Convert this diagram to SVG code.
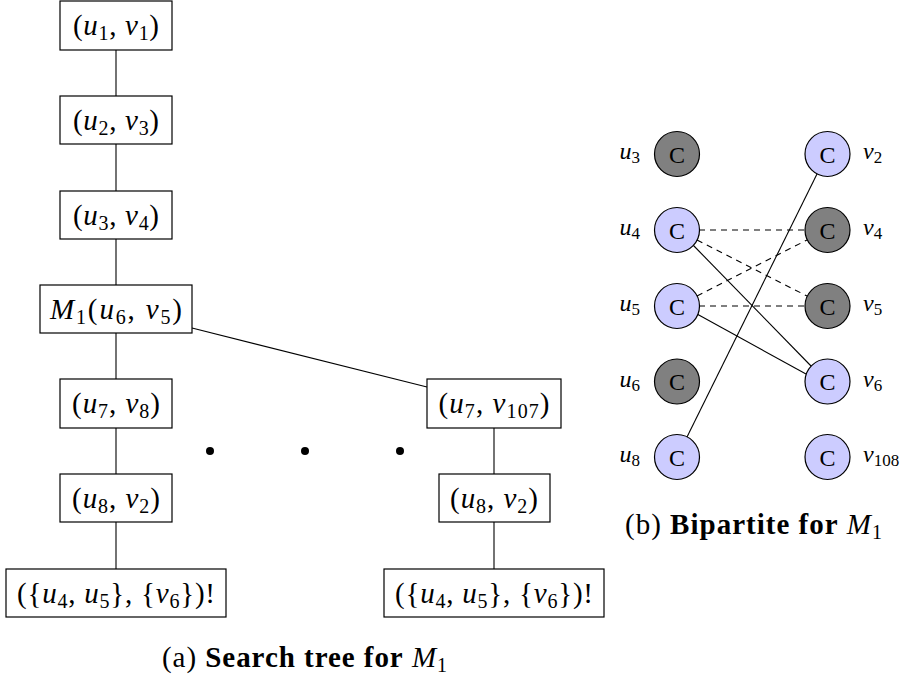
<svg xmlns="http://www.w3.org/2000/svg" width="903" height="678" viewBox="0 0 903 678" font-family="'Liberation Serif', 'DejaVu Serif', 'Times New Roman', serif">
<style>
text{font-family:'Liberation Serif','DejaVu Serif','Times New Roman',serif;fill:#000}
.t{font-size:29px}
.i{font-style:italic}
.s{font-size:20px}
.box{fill:#fff;stroke:#000;stroke-width:1.2}
.e{stroke:#000;stroke-width:1.1;fill:none}
.d{stroke:#000;stroke-width:1.1;fill:none;stroke-dasharray:6 5}
.cg{fill:#808080;stroke:#000;stroke-width:1.2}
.cb{fill:#ccccff;stroke:#000;stroke-width:1.2}
.c{font-size:24px}
.l{font-size:24px}
.ls{font-size:17px}
.cap{font-size:29px}
.b{font-weight:bold}
</style>
<g id="connectors">
<line class="e" x1="116" y1="50" x2="116" y2="96"/>
<line class="e" x1="116" y1="144" x2="116" y2="191"/>
<line class="e" x1="116" y1="239" x2="116" y2="285"/>
<line class="e" x1="116" y1="333" x2="116" y2="379"/>
<line class="e" x1="116" y1="428" x2="116" y2="474"/>
<line class="e" x1="116" y1="522" x2="116" y2="569"/>
<line class="e" x1="192" y1="328" x2="427" y2="387"/>
<line class="e" x1="494" y1="428" x2="494" y2="474"/>
<line class="e" x1="494" y1="522" x2="494" y2="569"/>
<line class="d" x1="699" y1="230" x2="805" y2="230"/>
<line class="d" x1="697" y1="240" x2="807" y2="296"/>
<line class="d" x1="697" y1="296" x2="807" y2="240"/>
<line class="d" x1="699" y1="306" x2="805" y2="306"/>
<line class="e" x1="693" y1="245" x2="812" y2="367"/>
<line class="e" x1="697" y1="314" x2="806" y2="374"/>
<line class="e" x1="687" y1="437" x2="817" y2="174"/>
</g>
<g id="n1"><rect class="box" x="60" y="1" width="112" height="49"/>
<text class="t" x="116" y="35" text-anchor="middle" textLength="86" lengthAdjust="spacing">(<tspan class="i">u</tspan><tspan class="s" dy="5">1</tspan><tspan dy="-5">, </tspan><tspan class="i">v</tspan><tspan class="s" dy="5">1</tspan><tspan dy="-5">)</tspan></text></g>
<g id="n2"><rect class="box" x="60" y="96" width="112" height="48"/>
<text class="t" x="116" y="130" text-anchor="middle" textLength="86" lengthAdjust="spacing">(<tspan class="i">u</tspan><tspan class="s" dy="5">2</tspan><tspan dy="-5">, </tspan><tspan class="i">v</tspan><tspan class="s" dy="5">3</tspan><tspan dy="-5">)</tspan></text></g>
<g id="n3"><rect class="box" x="60" y="191" width="112" height="48"/>
<text class="t" x="116" y="225" text-anchor="middle" textLength="86" lengthAdjust="spacing">(<tspan class="i">u</tspan><tspan class="s" dy="5">3</tspan><tspan dy="-5">, </tspan><tspan class="i">v</tspan><tspan class="s" dy="5">4</tspan><tspan dy="-5">)</tspan></text></g>
<g id="n4"><rect class="box" x="40" y="285" width="152" height="48"/>
<text class="t" x="116" y="319" text-anchor="middle" textLength="132" lengthAdjust="spacing"><tspan class="i">M</tspan><tspan class="s" dy="5">1</tspan><tspan dy="-5">(</tspan><tspan class="i">u</tspan><tspan class="s" dy="5">6</tspan><tspan dy="-5">, </tspan><tspan class="i">v</tspan><tspan class="s" dy="5">5</tspan><tspan dy="-5">)</tspan></text></g>
<g id="n5"><rect class="box" x="60" y="379" width="112" height="49"/>
<text class="t" x="116" y="413" text-anchor="middle" textLength="88" lengthAdjust="spacing">(<tspan class="i">u</tspan><tspan class="s" dy="5">7</tspan><tspan dy="-5">, </tspan><tspan class="i">v</tspan><tspan class="s" dy="5">8</tspan><tspan dy="-5">)</tspan></text></g>
<g id="n6"><rect class="box" x="60" y="474" width="112" height="48"/>
<text class="t" x="116" y="508" text-anchor="middle" textLength="88" lengthAdjust="spacing">(<tspan class="i">u</tspan><tspan class="s" dy="5">8</tspan><tspan dy="-5">, </tspan><tspan class="i">v</tspan><tspan class="s" dy="5">2</tspan><tspan dy="-5">)</tspan></text></g>
<g id="n7"><rect class="box" x="6" y="569" width="220" height="48"/>
<text class="t" x="116" y="603" text-anchor="middle" textLength="198" lengthAdjust="spacing">({<tspan class="i">u</tspan><tspan class="s" dy="5">4</tspan><tspan dy="-5">, </tspan><tspan class="i">u</tspan><tspan class="s" dy="5">5</tspan><tspan dy="-5">}, {</tspan><tspan class="i">v</tspan><tspan class="s" dy="5">6</tspan><tspan dy="-5">})!</tspan></text></g>
<g id="n8"><rect class="box" x="427" y="379" width="134" height="49"/>
<text class="t" x="494" y="413" text-anchor="middle" textLength="111" lengthAdjust="spacing">(<tspan class="i">u</tspan><tspan class="s" dy="5">7</tspan><tspan dy="-5">, </tspan><tspan class="i">v</tspan><tspan class="s" dy="5">107</tspan><tspan dy="-5">)</tspan></text></g>
<g id="n9"><rect class="box" x="439" y="474" width="111" height="48"/>
<text class="t" x="494" y="508" text-anchor="middle" textLength="88" lengthAdjust="spacing">(<tspan class="i">u</tspan><tspan class="s" dy="5">8</tspan><tspan dy="-5">, </tspan><tspan class="i">v</tspan><tspan class="s" dy="5">2</tspan><tspan dy="-5">)</tspan></text></g>
<g id="n10"><rect class="box" x="384" y="569" width="220" height="48"/>
<text class="t" x="494" y="603" text-anchor="middle" textLength="198" lengthAdjust="spacing">({<tspan class="i">u</tspan><tspan class="s" dy="5">4</tspan><tspan dy="-5">, </tspan><tspan class="i">u</tspan><tspan class="s" dy="5">5</tspan><tspan dy="-5">}, {</tspan><tspan class="i">v</tspan><tspan class="s" dy="5">6</tspan><tspan dy="-5">})!</tspan></text></g>
<g id="dots"><circle cx="210" cy="451" r="4"/><circle cx="305" cy="451" r="4"/><circle cx="400" cy="451" r="4"/></g>
<g id="u3"><circle class="cg" cx="677" cy="154" r="22.5"/><text class="c" x="677" y="162.5" text-anchor="middle">C</text><text class="l i" x="640" y="159" text-anchor="end">u<tspan class="ls" dy="4" font-style="normal">3</tspan></text></g>
<g id="u4"><circle class="cb" cx="677" cy="230" r="22.5"/><text class="c" x="677" y="238.5" text-anchor="middle">C</text><text class="l i" x="640" y="235" text-anchor="end">u<tspan class="ls" dy="4" font-style="normal">4</tspan></text></g>
<g id="u5"><circle class="cb" cx="677" cy="306" r="22.5"/><text class="c" x="677" y="314.5" text-anchor="middle">C</text><text class="l i" x="640" y="311" text-anchor="end">u<tspan class="ls" dy="4" font-style="normal">5</tspan></text></g>
<g id="u6"><circle class="cg" cx="677" cy="381.5" r="22.5"/><text class="c" x="677" y="390" text-anchor="middle">C</text><text class="l i" x="640" y="386.5" text-anchor="end">u<tspan class="ls" dy="4" font-style="normal">6</tspan></text></g>
<g id="u8"><circle class="cb" cx="677" cy="457" r="22.5"/><text class="c" x="677" y="465.5" text-anchor="middle">C</text><text class="l i" x="640" y="462" text-anchor="end">u<tspan class="ls" dy="4" font-style="normal">8</tspan></text></g>
<g id="v2"><circle class="cb" cx="827.5" cy="154" r="22.5"/><text class="c" x="827.5" y="162.5" text-anchor="middle">C</text><text class="l i" x="863" y="159">v<tspan class="ls" dy="4" font-style="normal">2</tspan></text></g>
<g id="v4"><circle class="cg" cx="827.5" cy="230" r="22.5"/><text class="c" x="827.5" y="238.5" text-anchor="middle">C</text><text class="l i" x="863" y="235">v<tspan class="ls" dy="4" font-style="normal">4</tspan></text></g>
<g id="v5"><circle class="cg" cx="827.5" cy="306" r="22.5"/><text class="c" x="827.5" y="314.5" text-anchor="middle">C</text><text class="l i" x="863" y="311">v<tspan class="ls" dy="4" font-style="normal">5</tspan></text></g>
<g id="v6"><circle class="cb" cx="827.5" cy="381.5" r="22.5"/><text class="c" x="827.5" y="390" text-anchor="middle">C</text><text class="l i" x="863" y="386.5">v<tspan class="ls" dy="4" font-style="normal">6</tspan></text></g>
<g id="v108"><circle class="cb" cx="827.5" cy="457" r="22.5"/><text class="c" x="827.5" y="465.5" text-anchor="middle">C</text><text class="l i" x="863" y="462">v<tspan class="ls" dy="4" font-style="normal">108</tspan></text></g>
<g id="captions">
<text class="cap" x="162" y="667" textLength="285" lengthAdjust="spacing">(a) <tspan class="b">Search tree for</tspan> <tspan class="i">M</tspan><tspan class="s" dy="5">1</tspan></text>
<text class="cap" x="625" y="534" textLength="257" lengthAdjust="spacing">(b) <tspan class="b">Bipartite for</tspan> <tspan class="i">M</tspan><tspan class="s" dy="5">1</tspan></text>
</g>
</svg>
